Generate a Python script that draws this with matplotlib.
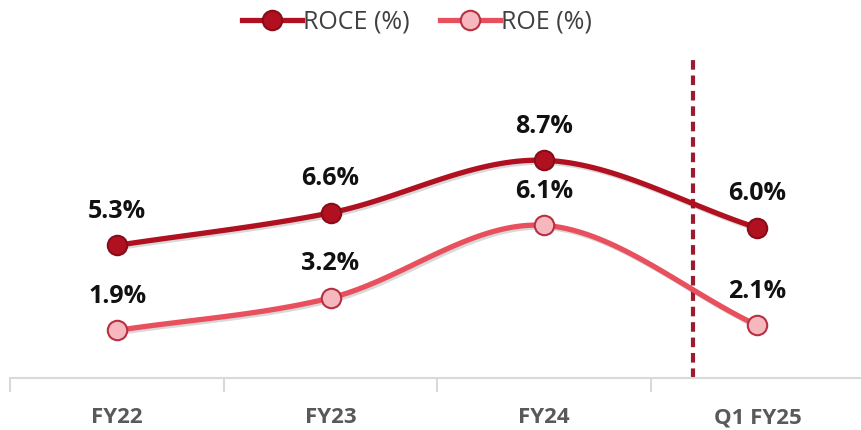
import numpy as np
import matplotlib
matplotlib.use("Agg")
import matplotlib.pyplot as plt
import matplotlib.patheffects as pe

categories = ["FY22", "FY23", "FY24", "Q1 FY25"]
roce = [5.3, 6.6, 8.7, 6.0]
roe = [1.9, 3.2, 6.1, 2.1]

plt.rcParams["font.family"] = ["Open Sans", "DejaVu Sans"]


def smooth(xs, ys, n=40):
    # Catmull-Rom curve through the points (like Excel's smoothed line)
    xs = np.asarray(xs, float)
    ys = np.asarray(ys, float)
    px = np.concatenate([[2 * xs[0] - xs[1]], xs, [2 * xs[-1] - xs[-2]]])
    py = np.concatenate([[2 * ys[0] - ys[1]], ys, [2 * ys[-1] - ys[-2]]])
    outx, outy = [], []
    for i in range(1, len(px) - 2):
        t = np.linspace(0, 1, n)
        for p, out in ((px, outx), (py, outy)):
            p0, p1, p2, p3 = p[i - 1], p[i], p[i + 1], p[i + 2]
            out.extend(0.5 * ((2 * p1) + (-p0 + p2) * t
                              + (2 * p0 - 5 * p1 + 4 * p2 - p3) * t ** 2
                              + (-p0 + 3 * p1 - 3 * p2 + p3) * t ** 3))
    return np.array(outx), np.array(outy)


fig = plt.figure(figsize=(8.62, 4.30), dpi=100)
ax = fig.add_axes([0.012, 0.121, 0.988, 0.739])

x = np.arange(len(categories))
shadow = [pe.SimpleLineShadow(offset=(1.5, -1.5), alpha=0.15, shadow_color="black"), pe.Normal()]

series = [
    ("ROCE (%)", roce, "#B01020", "#B01020", "#8A0C18"),
    ("ROE (%)", roe, "#E8505E", "#F6B8BE", "#B83040"),
]
for name, vals, lc, fc, ec in series:
    sx, sy = smooth(x, vals)
    ax.plot(sx, sy, color=lc, lw=3.8, solid_capstyle="round", path_effects=shadow, zorder=3)
    ax.plot(x, vals, linestyle="none", marker="o", ms=14, mfc=fc, mec=ec, mew=1.5, zorder=4)
    for xi, v in zip(x, vals):
        ax.annotate(f"{v}%", (xi, v), xytext=(0, 24.5), textcoords="offset points",
                    ha="center", va="center", fontsize=18, fontweight="bold", color="#111111")
    # legend handle
    ax.plot([], [], color=lc, lw=3.8, marker="o", ms=14, mfc=fc, mec=ec, mew=1.5, label=name)

ax.axvline(2.7, color="#9B1B30", lw=3, linestyle=(0, (2.3, 1.4)), zorder=2)

ax.set_xlim(-0.5, 3.49)
ax.set_ylim(0, 12.7)
ax.set_yticks([])
ax.set_xticks(x)
ax.set_xticklabels(categories, fontsize=16, fontweight="bold", color="#595959")
ax.set_xticks(np.arange(-0.5, 3.5, 1), minor=True)
ax.tick_params(axis="x", which="major", length=0, pad=21)
ax.tick_params(axis="x", which="minor", length=10, width=1.5, color="#D9D9D9")
for s in ["top", "left", "right"]:
    ax.spines[s].set_visible(False)
ax.spines["bottom"].set_color("#D9D9D9")
ax.spines["bottom"].set_linewidth(1.5)

handles, labels = ax.get_legend_handles_labels()
fig.legend(handles, labels, loc="upper center", bbox_to_anchor=(0.484, 1.03), ncol=2,
           frameon=False, fontsize=18, handlelength=2.4, columnspacing=1.2, handletextpad=0.05,
           labelcolor="#404040")

fig.savefig("out.png", dpi=100)
